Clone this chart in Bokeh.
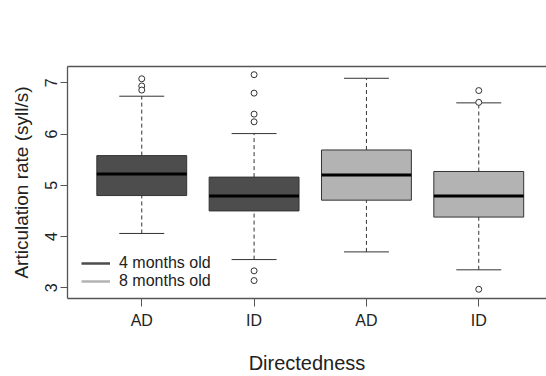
from bokeh.plotting import figure
from bokeh.models import ColumnDataSource, FixedTicker, LinearAxis, Range1d, Legend, LegendItem
from bokeh.embed import file_html
from bokeh.resources import INLINE

# ---- data ----
positions = [1, 2, 3, 4]
groups = ["AD", "ID", "AD", "ID"]
ages = ["4 months old", "4 months old", "8 months old", "8 months old"]
q1 = [4.80, 4.50, 4.71, 4.38]
medians = [5.22, 4.79, 5.20, 4.79]
q3 = [5.58, 5.16, 5.69, 5.27]
lower_whisker = [4.06, 3.55, 3.70, 3.35]
upper_whisker = [6.74, 6.01, 7.09, 6.61]
outliers = {
    1: [7.08, 6.94, 6.86],
    2: [7.16, 6.80, 6.39, 6.24, 3.33, 3.14],
    3: [],
    4: [6.85, 6.62, 2.97],
}
age_colors = {"4 months old": "#4d4d4d", "8 months old": "#b3b3b3"}
y_ticks = [3, 4, 5, 6, 7]

FONT = "Liberation Sans"
DARK = "#333333"

p = figure(width=546, height=376, output_backend="svg", toolbar_location=None,
           x_range=Range1d(0.339, 4.603), y_range=Range1d(2.79, 7.32),
           min_border_left=67, min_border_top=66, min_border_right=0,
           min_border_bottom=10, background_fill_color="white",
           border_fill_color="white")
p.outline_line_color = None
p.xgrid.visible = False
p.ygrid.visible = False

box_src = ColumnDataSource(dict(
    x=positions, q1=q1, q3=q3, med=medians, lo=lower_whisker, hi=upper_whisker,
    color=[age_colors[a] for a in ages],
    cl=[x - 0.2 for x in positions], cr=[x + 0.2 for x in positions],
    bl=[x - 0.4 for x in positions], br=[x + 0.4 for x in positions],
))

# whiskers (dashed)
p.segment(x0="x", y0="q3", x1="x", y1="hi", source=box_src, line_color=DARK,
          line_width=1, line_dash="4 3")
p.segment(x0="x", y0="lo", x1="x", y1="q1", source=box_src, line_color=DARK,
          line_width=1, line_dash="4 3")
# caps
p.segment(x0="cl", y0="hi", x1="cr", y1="hi", source=box_src, line_color=DARK, line_width=1)
p.segment(x0="cl", y0="lo", x1="cr", y1="lo", source=box_src, line_color=DARK, line_width=1)
# boxes
p.vbar(x="x", width=0.8, bottom="q1", top="q3", source=box_src,
       fill_color="color", line_color=DARK, line_width=1)
# medians
p.segment(x0="bl", y0="med", x1="br", y1="med", source=box_src, line_color="black", line_width=3)

# outliers
ox, oy = [], []
for k, vals in outliers.items():
    for v in vals:
        ox.append(k)
        oy.append(v)
p.scatter(x=ox, y=oy, marker="circle", size=6, fill_color="white",
          line_color=DARK, line_width=1)

# legend with line glyphs (renderers carry no visible data)
leg_items = []
for age, col in age_colors.items():
    r = p.line(x=[float("nan")], y=[float("nan")], line_color=col, line_width=2.5)
    leg_items.append(LegendItem(label=age, renderers=[r]))
legend = Legend(items=leg_items, location=(14, 8), border_line_color=None,
                background_fill_alpha=0, margin=0, padding=0, spacing=0,
                glyph_width=29, glyph_height=16, label_height=16,
                label_standoff=9, label_text_font=FONT, label_text_font_size="16px",
                label_text_color="#222222")
p.add_layout(legend, "center")

# axes
xa = p.xaxis[0]
xa.ticker = FixedTicker(ticks=positions)
xa.major_label_overrides = {pos: g for pos, g in zip(positions, groups)}
xa.axis_label = "Directedness"
ya = p.yaxis[0]
ya.ticker = FixedTicker(ticks=y_ticks)
ya.axis_label = "Articulation rate (syll/s)"
ya.major_label_orientation = "vertical"

for ax, tout in ((xa, 8), (ya, 7)):
    ax.minor_tick_line_color = None
    ax.major_tick_in = 0
    ax.major_tick_out = tout
    ax.axis_line_color = "#555555"
    ax.axis_line_width = 1.3
    ax.major_tick_line_color = "#555555"
    ax.major_label_text_font = FONT
    ax.major_label_text_font_size = "16px"
    ax.major_label_text_color = "#222222"
    ax.axis_label_text_font = FONT
    ax.axis_label_text_font_style = "normal"
    ax.axis_label_text_color = "#222222"
xa.axis_label_text_font_size = "20px"
ya.axis_label_text_font_size = "19px"
xa.major_label_standoff = 5
xa.axis_label_standoff = 20
ya.major_label_standoff = 3
ya.axis_label_standoff = 11

top = LinearAxis(ticker=FixedTicker(ticks=[]), major_label_text_font_size="0px",
                 axis_line_color="#555555", axis_line_width=1.3,
                 major_tick_line_color=None, minor_tick_line_color=None)
p.add_layout(top, "above")

open("out.html", "w").write(file_html(p, INLINE))
